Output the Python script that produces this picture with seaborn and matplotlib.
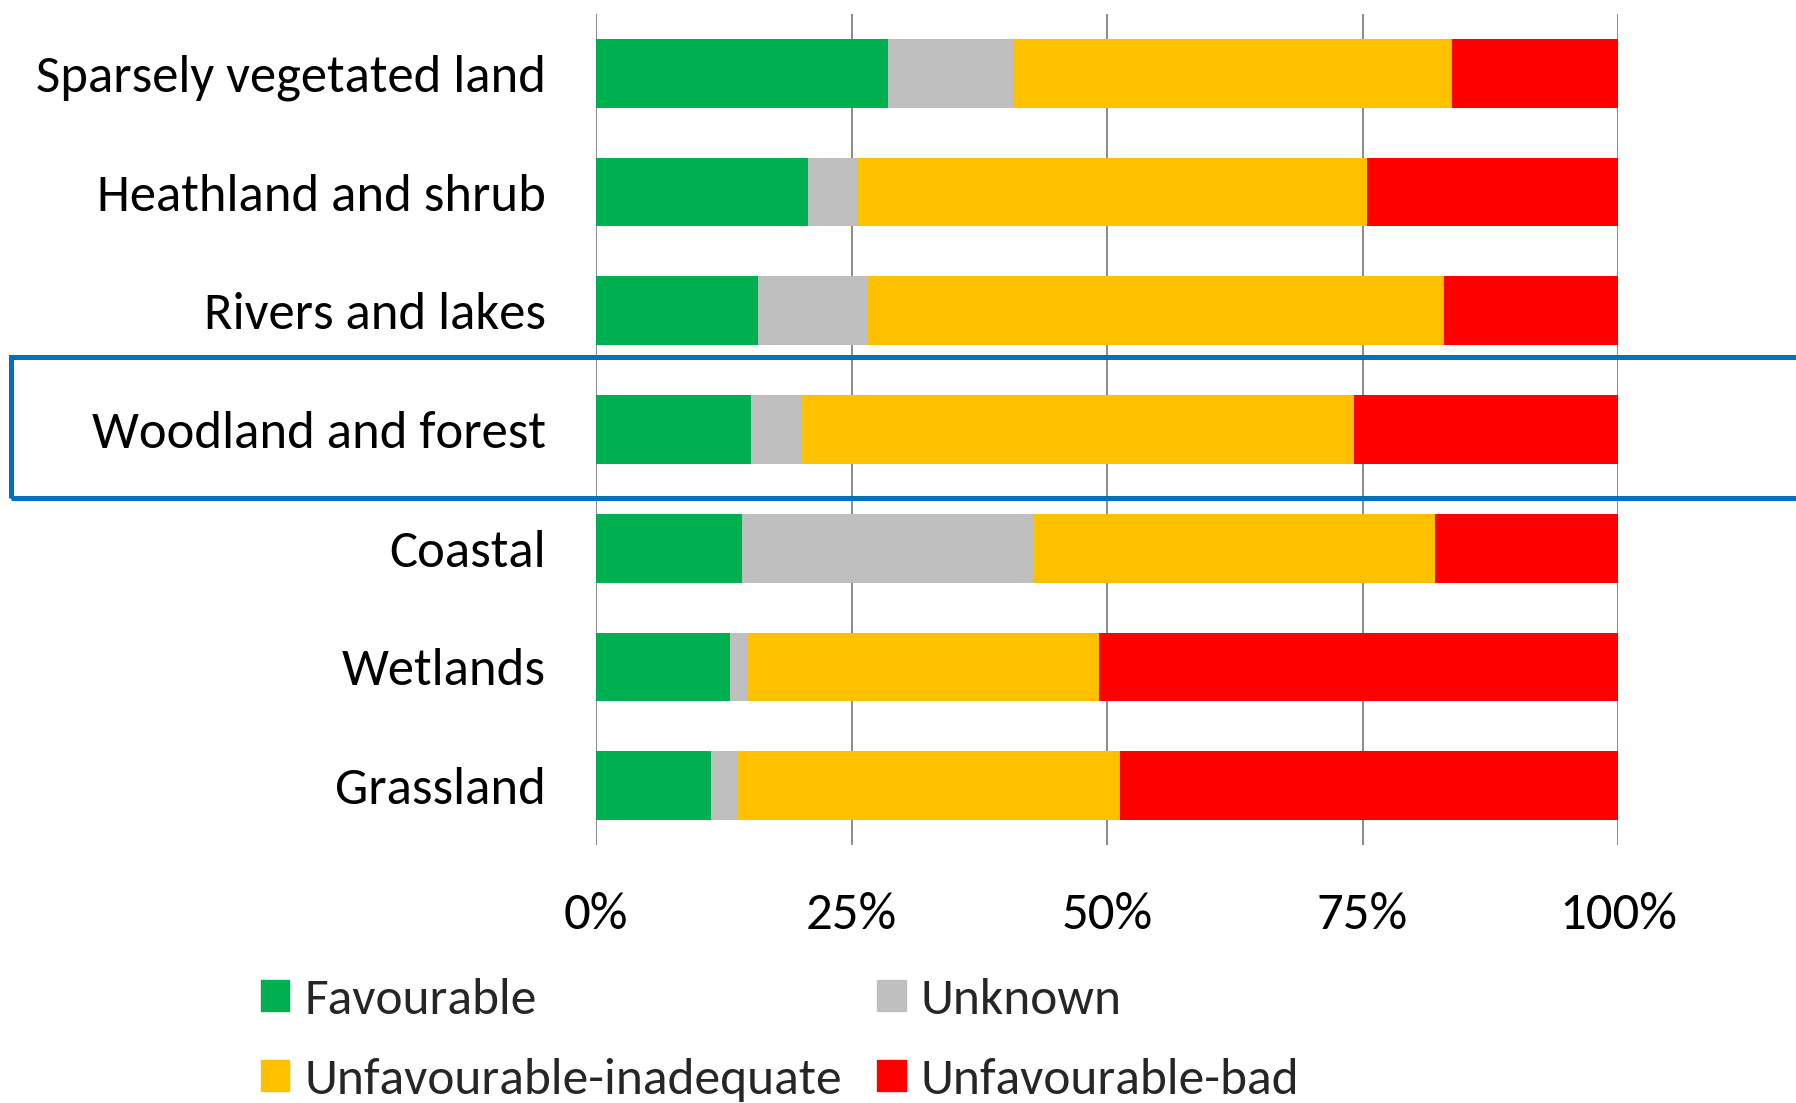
import matplotlib
matplotlib.use("Agg")
import matplotlib.pyplot as plt
import matplotlib.patches as mpatches
import seaborn as sns
import numpy as np
import pandas as pd

categories = ["Sparsely vegetated land", "Heathland and shrub", "Rivers and lakes",
              "Woodland and forest", "Coastal", "Wetlands", "Grassland"]
favourable = [28.6, 20.7, 15.9, 15.2, 14.3, 13.1, 11.3]
unknown = [12.3, 4.8, 10.7, 4.9, 28.6, 1.7, 2.6]
inadequate = [42.9, 49.9, 56.4, 54.1, 39.2, 34.4, 37.4]
bad = [16.2, 24.6, 17.0, 25.8, 17.9, 50.8, 48.7]
series_names = ["Favourable", "Unknown", "Unfavourable-inadequate", "Unfavourable-bad"]
colors = ["#00B050", "#BFBFBF", "#FFC000", "#FF0000"]
tick_values = [0, 25, 50, 75, 100]
tick_labels = ["0%", "25%", "50%", "75%", "100%"]

sns.set_theme(style="white")
plt.rcParams["font.family"] = ["Carlito", "Lato", "DejaVu Sans"]

df = pd.DataFrame({"category": categories, "Favourable": favourable, "Unknown": unknown,
                   "Unfavourable-inadequate": inadequate, "Unfavourable-bad": bad})
cum = df[series_names].cumsum(axis=1)

fig = plt.figure(figsize=(17.96, 11.03), dpi=100)
ax = fig.add_axes([596/1796, 1 - 845/1103, (1618-596)/1796, (845-14)/1103])

for name, col in reversed(list(zip(series_names, colors))):
    sns.barplot(x=cum[name], y=df["category"], color=col, width=0.58, ax=ax,
                orient="h", linewidth=0, saturation=1)

ax.set_xlim(0, 100)
ax.set_ylim(6.5, -0.5)
ax.set_xticks(tick_values)
ax.set_xticklabels(tick_labels)
ax.set_xlabel("")
ax.set_ylabel("")
for s in ax.spines.values():
    s.set_visible(False)
ax.grid(axis="x", color="#8a8a8a", linewidth=1.4)
ax.grid(axis="y", visible=False)
ax.set_axisbelow(True)
ax.tick_params(axis="y", length=0, pad=36, labelsize=38, labelcolor="black")
ax.tick_params(axis="x", length=0, pad=34, labelsize=38, labelcolor="black")

# legend is filled column by column; order so rows read Favourable/Unknown, Inadequate/Bad
order = [0, 2, 1, 3]
handles = [mpatches.Patch(color=colors[i], label=series_names[i]) for i in order]
fig.legend(handles=handles, ncol=2, loc="upper left",
           bbox_to_anchor=(261/1796, 1 - 978/1103), frameon=False, fontsize=37,
           handlelength=0.55, handleheight=0.55, handletextpad=0.3,
           columnspacing=0.68, labelspacing=0.7, borderaxespad=0, borderpad=0)

rect = mpatches.Rectangle((11/1796, 1 - 498/1103), 1.02, 141/1103,
                          transform=fig.transFigure, fill=False,
                          edgecolor="#0070C0", linewidth=3.6, clip_on=False)
fig.add_artist(rect)

fig.savefig("out.png", dpi=100)
